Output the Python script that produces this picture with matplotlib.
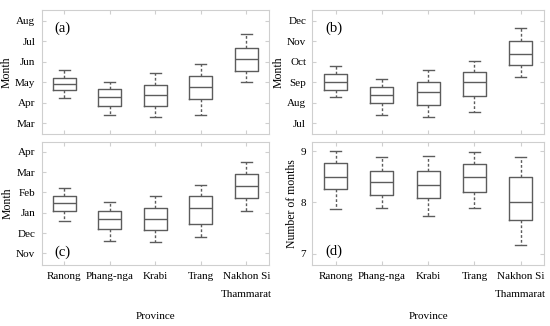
import matplotlib
matplotlib.use("Agg")
import matplotlib.pyplot as plt

plt.rcParams['font.family'] = ['Liberation Serif', 'DejaVu Serif']

provinces = ['Ranong', 'Phang-nga', 'Krabi', 'Trang', 'Nakhon Si\nThammarat']

# five-number summaries per province: whisker low, q1, median, q3, whisker high
# (a) onset month (3 = Mar)
onset_lo = [4.23, 3.41, 3.31, 3.41, 5.00]
onset_q1 = [4.61, 3.86, 3.84, 4.17, 5.56]
onset_med = [4.90, 4.27, 4.36, 4.77, 6.12]
onset_q3 = [5.22, 4.66, 4.85, 5.32, 6.65]
onset_hi = [5.60, 5.00, 5.43, 5.87, 7.37]

# (b) peak month (7 = Jul)
peak_lo = [8.28, 7.43, 7.31, 7.56, 9.26]
peak_q1 = [8.62, 7.98, 7.89, 8.33, 9.82]
peak_med = [9.03, 8.38, 8.51, 9.02, 10.38]
peak_q3 = [9.41, 8.77, 9.02, 9.52, 11.03]
peak_hi = [9.79, 9.15, 9.59, 10.03, 11.67]

# (c) end month (11 = Nov, 13 = Jan of next year)
end_lo = [12.57, 11.62, 11.54, 11.79, 13.08]
end_q1 = [13.07, 12.20, 12.13, 12.46, 13.72]
end_med = [13.49, 12.67, 12.70, 13.21, 14.33]
end_q3 = [13.80, 13.10, 13.25, 13.84, 14.89]
end_hi = [14.20, 13.54, 13.84, 14.38, 15.51]

# (d) length of season in months
len_lo = [7.86, 7.88, 7.74, 7.88, 7.16]
len_q1 = [8.25, 8.14, 8.09, 8.21, 7.66]
len_med = [8.49, 8.39, 8.33, 8.49, 8.00]
len_q3 = [8.77, 8.62, 8.62, 8.74, 8.49]
len_hi = [9.00, 8.89, 8.90, 8.99, 8.89]

ticks_a = ['Mar', 'Apr', 'May', 'Jun', 'Jul', 'Aug']
ticks_b = ['Jul', 'Aug', 'Sep', 'Oct', 'Nov', 'Dec']
ticks_c = ['Nov', 'Dec', 'Jan', 'Feb', 'Mar', 'Apr']
ticks_d = ['7', '8', '9']

box_col = '#5c5c5c'
frame_col = '#cfcfcf'


def stats(lo, q1, med, q3, hi):
    return [dict(whislo=a, q1=b, med=c, q3=d, whishi=e, fliers=[])
            for a, b, c, d, e in zip(lo, q1, med, q3, hi)]


def draw(ax, st, yticks, ylabels, ylim, tag, tag_y, ylabel, show_x):
    ax.bxp(st, positions=range(1, 6), widths=0.5, showfliers=False,
           boxprops=dict(color=box_col, lw=1.0),
           medianprops=dict(color=box_col, lw=1.0),
           whiskerprops=dict(color=box_col, lw=1.0, ls=(0, (2, 1.5))),
           capprops=dict(color=box_col, lw=1.0), capwidths=0.24)
    ax.set_xlim(0.5, 5.5)
    ax.set_ylim(*ylim)
    ax.set_yticks(yticks)
    ax.set_yticklabels(ylabels)
    ax.set_xticks(range(1, 6))
    if show_x:
        ax.set_xticklabels(provinces, linespacing=2.4, va='top')
        ax.set_xlabel('Province', fontsize=8, labelpad=9)
    else:
        ax.set_xticklabels([])
    ax.set_ylabel(ylabel, fontsize=8.5, labelpad=2)
    ax.tick_params(direction='in', length=3, color=frame_col, labelsize=8,
                   top=True, right=True, pad=4.5)
    for s in ax.spines.values():
        s.set_color(frame_col)
        s.set_linewidth(0.8)
    ax.text(0.055, tag_y, tag, transform=ax.transAxes, fontsize=10.5,
            va='center', ha='left')


fig = plt.figure(figsize=(5.5, 3.26), dpi=100)
ax_a = fig.add_axes([0.0755, 0.589, 0.4136, 0.380])
ax_b = fig.add_axes([0.568, 0.589, 0.421, 0.380])
ax_c = fig.add_axes([0.0755, 0.186, 0.4136, 0.379])
ax_d = fig.add_axes([0.568, 0.186, 0.421, 0.379])

draw(ax_a, stats(onset_lo, onset_q1, onset_med, onset_q3, onset_hi),
     range(3, 9), ticks_a, (2.48, 8.52), '(a)', 0.855, 'Month', False)
draw(ax_b, stats(peak_lo, peak_q1, peak_med, peak_q3, peak_hi),
     range(7, 13), ticks_b, (6.48, 12.52), '(b)', 0.855, 'Month', False)
draw(ax_c, stats(end_lo, end_q1, end_med, end_q3, end_hi),
     range(11, 17), ticks_c, (10.41, 16.49), '(c)', 0.11, 'Month', True)
draw(ax_d, stats(len_lo, len_q1, len_med, len_q3, len_hi),
     [7, 8, 9], ticks_d, (6.77, 9.18), '(d)', 0.115, 'Number of months', True)
ax_b.yaxis.labelpad = 2

fig.savefig('out.png', dpi=100)
